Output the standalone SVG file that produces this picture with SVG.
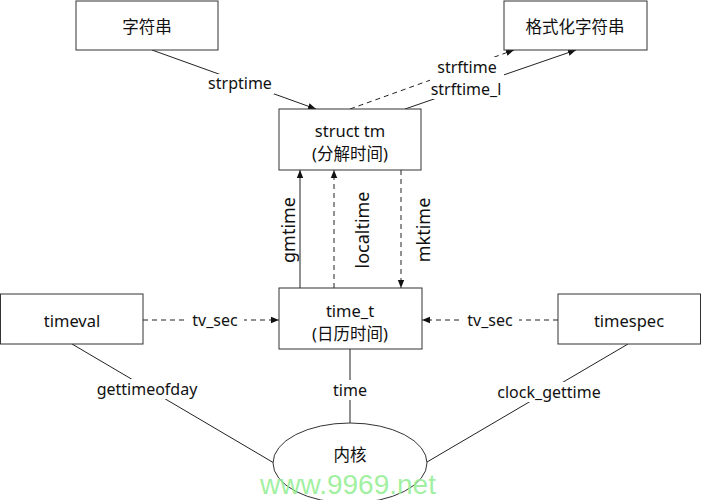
<svg xmlns="http://www.w3.org/2000/svg" width="701" height="500" viewBox="0 0 701 500">
<style>
.box{fill:#fff;stroke:#333;stroke-width:1}
.t{font-family:"Noto Sans","Noto Sans CJK SC",sans-serif;font-size:16.5px;fill:#111;text-anchor:middle;dominant-baseline:central}
.l{font-family:"Noto Sans","Noto Sans CJK SC",sans-serif;font-size:16px;fill:#111;text-anchor:middle;dominant-baseline:central}
.r{font-size:18px}
.s{stroke:#222;stroke-width:1;fill:none}
.d{stroke:#222;stroke-width:1;fill:none;stroke-dasharray:5,4}
.bg{fill:#fff}
</style>
<defs>
<marker id="a" viewBox="0 0 10 10" refX="10" refY="5" markerWidth="8" markerHeight="8" orient="auto" markerUnits="userSpaceOnUse">
<path d="M0,1 L10,5 L0,9 z" fill="#111"/>
</marker>
</defs>
<rect width="701" height="500" fill="#fff"/>
<g id="connectors">
<line class="s" x1="152" y1="50" x2="316" y2="109" marker-end="url(#a)"/>
<line class="d" x1="350" y1="109" x2="514" y2="50" marker-end="url(#a)"/>
<line class="s" x1="405" y1="109" x2="576" y2="50" marker-end="url(#a)"/>
<line class="s" x1="300" y1="288" x2="300" y2="170" marker-end="url(#a)"/>
<line class="d" x1="334" y1="288" x2="334" y2="170" marker-end="url(#a)"/>
<line class="d" x1="401" y1="170" x2="401" y2="288" marker-end="url(#a)"/>
<line class="d" x1="143" y1="320" x2="279" y2="320" marker-end="url(#a)"/>
<line class="d" x1="558" y1="320" x2="422" y2="320" marker-end="url(#a)"/>
<line class="s" x1="350" y1="349" x2="350" y2="424"/>
<line class="s" x1="72" y1="344" x2="274" y2="463"/>
<line class="s" x1="628" y1="344" x2="427" y2="462"/>
<rect class="bg" x="206" y="74" width="68" height="20"/>
<rect class="bg" x="430" y="57" width="74" height="42"/>
<rect class="bg" x="277" y="197" width="22" height="66"/>
<rect class="bg" x="351" y="190" width="22" height="80"/>
<rect class="bg" x="412" y="197" width="22" height="66"/>
<rect class="bg" x="186" y="311" width="58" height="18"/>
<rect class="bg" x="461" y="311" width="58" height="18"/>
<rect class="bg" x="333" y="380" width="34" height="20"/>
<rect class="bg" x="95" y="379" width="104" height="20"/>
<rect class="bg" x="494" y="382" width="112" height="20"/>
<text class="l" x="240" y="83">strptime</text>
<text class="l" x="467" y="67">strftime</text>
<text class="l" x="466" y="89">strftime_l</text>
<text class="l r" transform="translate(288,230) rotate(-90)">gmtime</text>
<text class="l r" transform="translate(362,230) rotate(-90)">localtime</text>
<text class="l r" transform="translate(423,230) rotate(-90)">mktime</text>
<text class="l" x="215" y="320">tv_sec</text>
<text class="l" x="490" y="320">tv_sec</text>
<text class="l" x="350" y="390">time</text>
<text class="l" x="147" y="389">gettimeofday</text>
<text class="l" x="549" y="392">clock_gettime</text>
</g>
<g id="n1"><rect class="box" x="76" y="1" width="142" height="49"/><text class="t" x="147" y="26">字符串</text></g>
<g id="n2"><rect class="box" x="504" y="1" width="143" height="49"/><text class="t" x="575" y="26">格式化字符串</text></g>
<g id="n3"><rect class="box" x="279" y="109" width="142" height="61"/><text class="t" x="350" y="130">struct tm</text><text class="t" x="350" y="153">(分解时间)</text></g>
<g id="n4"><rect class="box" x="279" y="288" width="143" height="61"/><text class="t" x="350" y="310">time_t</text><text class="t" x="350" y="333">(日历时间)</text></g>
<g id="n5"><rect class="box" x="0.5" y="294" width="142.5" height="50"/><text class="t" x="72" y="320">timeval</text></g>
<g id="n6"><rect class="box" x="558" y="294" width="142.5" height="50"/><text class="t" x="629" y="320">timespec</text></g>
<g id="n7"><ellipse class="box" cx="350" cy="463" rx="77" ry="40"/><text class="t" x="350" y="454">内核</text></g>
<text x="348" y="494" font-family="Liberation Sans,sans-serif" font-size="28" fill="#90ee90" fill-opacity="0.85" text-anchor="middle">www.9969.net</text>
</svg>
